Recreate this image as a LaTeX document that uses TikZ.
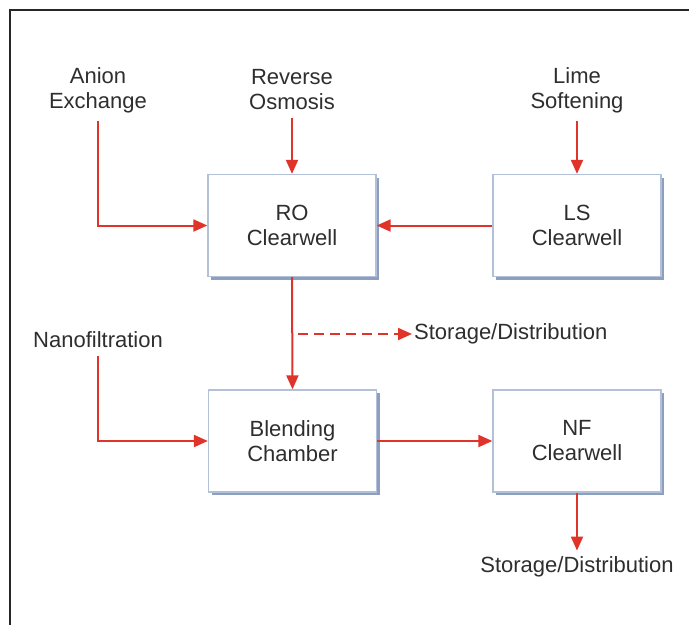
\documentclass[tikz,border=0pt]{standalone}
\usepackage{fontspec}
\setmainfont{Liberation Sans}
\usepackage{xcolor}
\usetikzlibrary{arrows.meta,shadows}
\definecolor{flowred}{HTML}{E0332A}
\definecolor{boxline}{HTML}{B3C1D8}
\definecolor{boxshade}{HTML}{8C9FBE}
\definecolor{labelgray}{HTML}{2E2E2E}

\begin{document}
\begin{tikzpicture}[x=1pt,y=-1pt,
        tank/.style={draw=boxline,line width=1.3pt,fill=white,minimum width=168pt,minimum height=102pt,
            align=center,text=labelgray,font=\fontsize{22}{25}\selectfont,
            general shadow={fill=boxshade,shadow xshift=3pt,shadow yshift=-3pt}},
        source/.style={align=center,text=labelgray,font=\fontsize{22}{25}\selectfont,inner sep=2pt},
        flow/.style={draw=flowred,line width=2pt,-{Triangle[length=14pt,width=12pt]},color=flowred}]
        \useasboundingbox (0,0) rectangle (689,625);
        \draw[line width=2.4pt,black!85] (689,10) -| (10,625);
        % sources
        \node[source] (anion) at (98,90) {Anion\\Exchange};
        \node[source] (rev) at (292,90) {Reverse\\Osmosis};
        \node[source] (lime) at (577,90) {Lime\\Softening};
        \node[source] (nano) at (98,340) {Nanofiltration};
        % clearwells
        \node[tank] (ro) at (292,225.5) {RO\\Clearwell};
        \node[tank] (ls) at (577,225.5) {LS\\Clearwell};
        \node[tank] (blend) at (292.5,441) {Blending\\Chamber};
        \node[tank] (nf) at (577,441) {NF\\Clearwell};
        \node[source,anchor=west] (store1) at (412,334) {Storage/Distribution};
        \node[source] (store2) at (577,567) {Storage/Distribution};
        \coordinate (tap) at (ro.south |- store1.west);
        % flows
        \draw[flow,shorten <=6pt] (anion.south) |- (ro.west);
        \draw[flow,shorten <=6pt] (rev.south) -- (ro.north);
        \draw[flow,shorten <=6pt] (lime.south) -- (ls.north);
        \draw[flow] (ls.west) -- (ro.east);
        \draw[flow] (ro.south) -- (blend.north);
        \draw[flow,dash pattern=on 10pt off 6pt,shorten <=6pt] (tap) -- (store1.west);
        \draw[flow,shorten <=6pt] (nano.south) |- (blend.west);
        \draw[flow] (blend.east) -- (nf.west);
        \draw[flow,shorten >=4pt] (nf.south) -- (store2.north);
    \end{tikzpicture}
\end{document}
